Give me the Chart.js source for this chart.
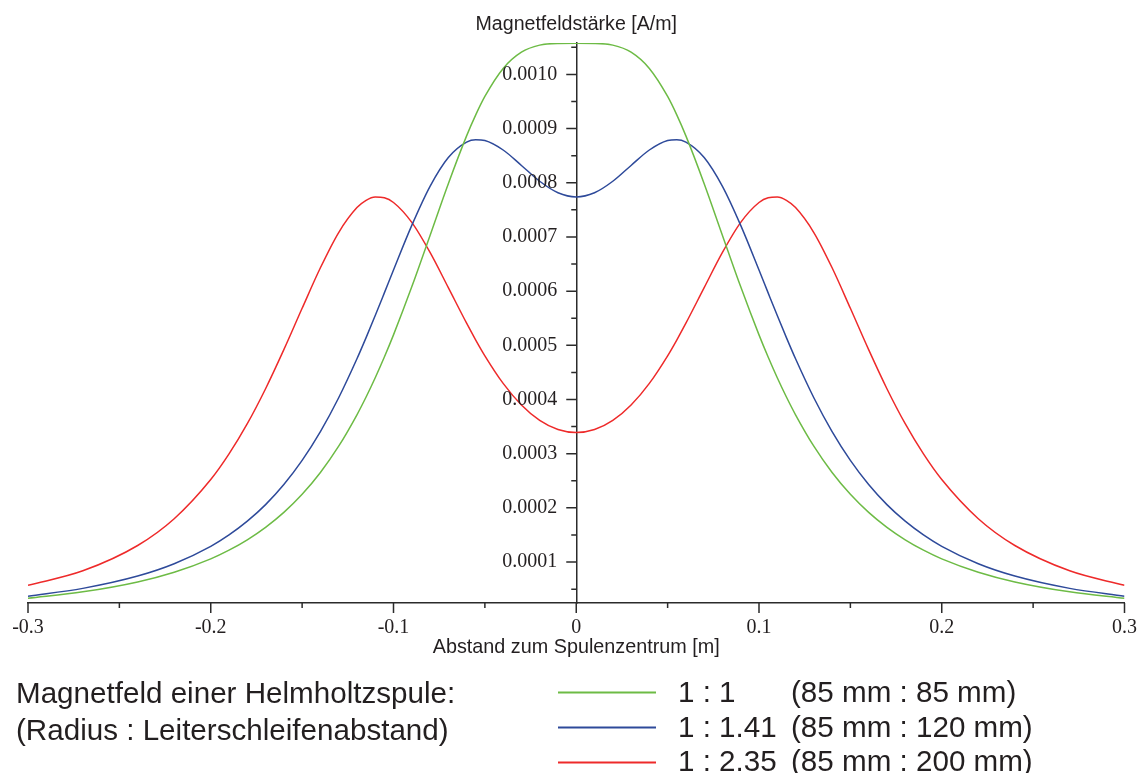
<!DOCTYPE html>
<html lang="de">
<head>
    <meta charset="UTF-8">
    <title>Magnetfeld einer Helmholtzspule</title>
    <script src="https://cdn.jsdelivr.net/npm/chart.js"></script>
    <style>
        body { margin: 0; background: #fff; }
        #chart-box { width: 1137px; height: 773px; }
    </style>
</head>
<body>
<div id="chart-box"><canvas id="fieldChart" width="1137" height="773"></canvas></div>
<script>
// Abstand zum Spulenzentrum [m]
const distance = [-0.30, -0.27, -0.24, -0.22, -0.20, -0.19, -0.18, -0.17, -0.16, -0.15, -0.14, -0.13,
    -0.12, -0.115, -0.11, -0.105, -0.10, -0.09, -0.08, -0.07, -0.06, -0.055, -0.05, -0.04, -0.03, -0.02,
    -0.01, 0,
    0.01, 0.02, 0.03, 0.04, 0.05, 0.055, 0.06, 0.07, 0.08, 0.09, 0.10, 0.105, 0.11, 0.115, 0.12, 0.13,
    0.14, 0.15, 0.16, 0.17, 0.18, 0.19, 0.20, 0.22, 0.24, 0.27, 0.30];

// Magnetfeldstärke [A/m]
const ratio1 = [0.0000331, 0.0000450, 0.0000633, 0.0000812, 0.0001059, 0.0001219, 0.0001410, 0.0001640,
    0.0001916, 0.0002250, 0.0002653, 0.0003138, 0.0003718, 0.0004046, 0.0004402, 0.0004784, 0.0005193,
    0.0006079, 0.0007029, 0.0007984, 0.0008866, 0.0009254, 0.0009594, 0.0010111, 0.0010411, 0.0010541,
    0.0010573, 0.0010576,
    0.0010573, 0.0010541, 0.0010411, 0.0010111, 0.0009594, 0.0009254, 0.0008866, 0.0007984, 0.0007029,
    0.0006079, 0.0005193, 0.0004784, 0.0004402, 0.0004046, 0.0003718, 0.0003138, 0.0002653, 0.0002250,
    0.0001916, 0.0001640, 0.0001410, 0.0001219, 0.0001059, 0.0000812, 0.0000633, 0.0000450, 0.0000331];
const ratio141 = [0.0000370, 0.0000514, 0.0000741, 0.0000968, 0.0001289, 0.0001500, 0.0001754, 0.0002060,
    0.0002431, 0.0002876, 0.0003407, 0.0004032, 0.0004751, 0.0005142, 0.0005549, 0.0005968, 0.0006391,
    0.0007214, 0.0007935, 0.0008468, 0.0008752, 0.0008796, 0.0008780, 0.0008605, 0.0008320, 0.0008028,
    0.0007816, 0.0007739,
    0.0007816, 0.0008028, 0.0008320, 0.0008605, 0.0008780, 0.0008796, 0.0008752, 0.0008468, 0.0007935,
    0.0007214, 0.0006391, 0.0005968, 0.0005549, 0.0005142, 0.0004751, 0.0004032, 0.0003407, 0.0002876,
    0.0002431, 0.0002060, 0.0001754, 0.0001500, 0.0001289, 0.0000968, 0.0000741, 0.0000514, 0.0000370];
const ratio235 = [0.0000570, 0.0000838, 0.0001305, 0.0001799, 0.0002522, 0.0002995, 0.0003553, 0.0004199,
    0.0004920, 0.0005683, 0.0006431, 0.0007082, 0.0007542, 0.0007676, 0.0007737, 0.0007723, 0.0007636,
    0.0007269, 0.0006714, 0.0006064, 0.0005408, 0.0005098, 0.0004807, 0.0004298, 0.0003899, 0.0003614,
    0.0003445, 0.0003389,
    0.0003445, 0.0003614, 0.0003899, 0.0004298, 0.0004807, 0.0005098, 0.0005408, 0.0006064, 0.0006714,
    0.0007269, 0.0007636, 0.0007723, 0.0007737, 0.0007676, 0.0007542, 0.0007082, 0.0006431, 0.0005683,
    0.0004920, 0.0004199, 0.0003553, 0.0002995, 0.0002522, 0.0001799, 0.0001305, 0.0000838, 0.0000570];

const seriesNames = ['1 : 1', '1 : 1.41', '1 : 2.35'];
const seriesSizes = ['(85 mm : 85 mm)', '(85 mm : 120 mm)', '(85 mm : 200 mm)'];
const seriesColors = ['#6dbb45', '#2e4a9a', '#ee2a2a'];

const xTickValues = [-0.3, -0.25, -0.2, -0.15, -0.1, -0.05, 0, 0.05, 0.1, 0.15, 0.2, 0.25, 0.3];
const xTickLabels = ['-0.3', '', '-0.2', '', '-0.1', '', '0', '', '0.1', '', '0.2', '', '0.3'];
const yTickValues = [0.00005, 0.0001, 0.00015, 0.0002, 0.00025, 0.0003, 0.00035, 0.0004, 0.00045, 0.0005,
    0.00055, 0.0006, 0.00065, 0.0007, 0.00075, 0.0008, 0.00085, 0.0009, 0.00095, 0.0010, 0.00105];
const yTickLabels = ['', '0.0001', '', '0.0002', '', '0.0003', '', '0.0004', '', '0.0005',
    '', '0.0006', '', '0.0007', '', '0.0008', '', '0.0009', '', '0.0010', ''];

const axisColor = '#2b2b2b';
const textColor = '#231f20';
const serif = '"Liberation Serif", "Times New Roman", serif';
const sans = '"Liberation Sans", Arial, sans-serif';

function points(values) {
    return distance.map((d, i) => ({ x: d, y: values[i] }));
}

// tick marks (long for labelled, short for the others), y labels, axis titles and the legend block
const decorations = {
    id: 'decorations',
    afterDraw(chart) {
        const { ctx, chartArea, scales: { x, y } } = chart;
        const x0 = x.getPixelForValue(0);
        ctx.save();
        ctx.strokeStyle = axisColor;
        ctx.lineWidth = 1.5;
        ctx.beginPath();
        xTickValues.forEach((v, i) => {
            const px = x.getPixelForValue(v);
            const len = xTickLabels[i] ? 10 : 5;
            ctx.moveTo(px, chartArea.bottom);
            ctx.lineTo(px, chartArea.bottom + len);
        });
        yTickValues.forEach((v, i) => {
            const py = y.getPixelForValue(v);
            const len = yTickLabels[i] ? 10 : 5;
            ctx.moveTo(x0 - len, py);
            ctx.lineTo(x0, py);
        });
        ctx.stroke();

        ctx.fillStyle = textColor;
        ctx.font = '20px ' + serif;
        ctx.textAlign = 'right';
        ctx.textBaseline = 'middle';
        yTickValues.forEach((v, i) => {
            if (yTickLabels[i]) ctx.fillText(yTickLabels[i], x0 - 19, y.getPixelForValue(v));
        });

        ctx.textBaseline = 'alphabetic';
        ctx.font = '19.6px ' + sans;
        ctx.textAlign = 'center';
        ctx.fillText('Magnetfeldstärke [A/m]', x0, 30);
        ctx.font = '19.8px ' + sans;
        ctx.fillText('Abstand zum Spulenzentrum [m]', (chartArea.left + chartArea.right) / 2, 653);

        ctx.textAlign = 'left';
        ctx.font = '29.6px ' + sans;
        ctx.fillText('Magnetfeld einer Helmholtzspule:', 16, 703);
        ctx.fillText('(Radius : Leiterschleifenabstand)', 16, 740);

        seriesNames.forEach((name, i) => {
            const ly = 692.5 + i * 35;
            ctx.strokeStyle = seriesColors[i];
            ctx.lineWidth = 2;
            ctx.beginPath();
            ctx.moveTo(558, ly);
            ctx.lineTo(656, ly);
            ctx.stroke();
            ctx.fillText(name, 678, 702 + i * 34.5);
            ctx.fillText(seriesSizes[i], 791, 702 + i * 34.5);
        });
        ctx.restore();
    }
};

new Chart(document.getElementById('fieldChart'), {
    type: 'line',
    data: {
        datasets: [ratio1, ratio141, ratio235].map((vals, i) => ({
            label: seriesNames[i] + ' ' + seriesSizes[i],
            data: points(vals),
            borderColor: seriesColors[i],
            borderWidth: 1.5,
            pointRadius: 0,
            fill: false,
            cubicInterpolationMode: 'monotone'
        }))
    },
    options: {
        responsive: false,
        animation: false,
        layout: { padding: { left: 28, right: 11, top: 43, bottom: 120 } },
        plugins: { legend: { display: false }, tooltip: { enabled: false } },
        scales: {
            x: {
                type: 'linear',
                min: -0.3,
                max: 0.3,
                grid: { display: false, drawTicks: false },
                border: { display: true, color: axisColor, width: 1.5 },
                afterBuildTicks: scale => { scale.ticks = xTickValues.map(v => ({ value: v })); },
                ticks: {
                    autoSkip: false,
                    maxRotation: 0,
                    padding: 0,
                    color: textColor,
                    font: { family: serif, size: 20, lineHeight: 2.5 },
                    callback: (value, index) => xTickLabels[index]
                }
            },
            y: {
                type: 'linear',
                position: { x: 0 },
                min: 0.0000244,
                max: 0.001058,
                grid: { display: false, drawTicks: false },
                border: { display: true, color: axisColor, width: 1.5 },
                afterBuildTicks: scale => { scale.ticks = yTickValues.map(v => ({ value: v })); },
                ticks: { display: false }
            }
        }
    },
    plugins: [decorations]
});
</script>
</body>
</html>
